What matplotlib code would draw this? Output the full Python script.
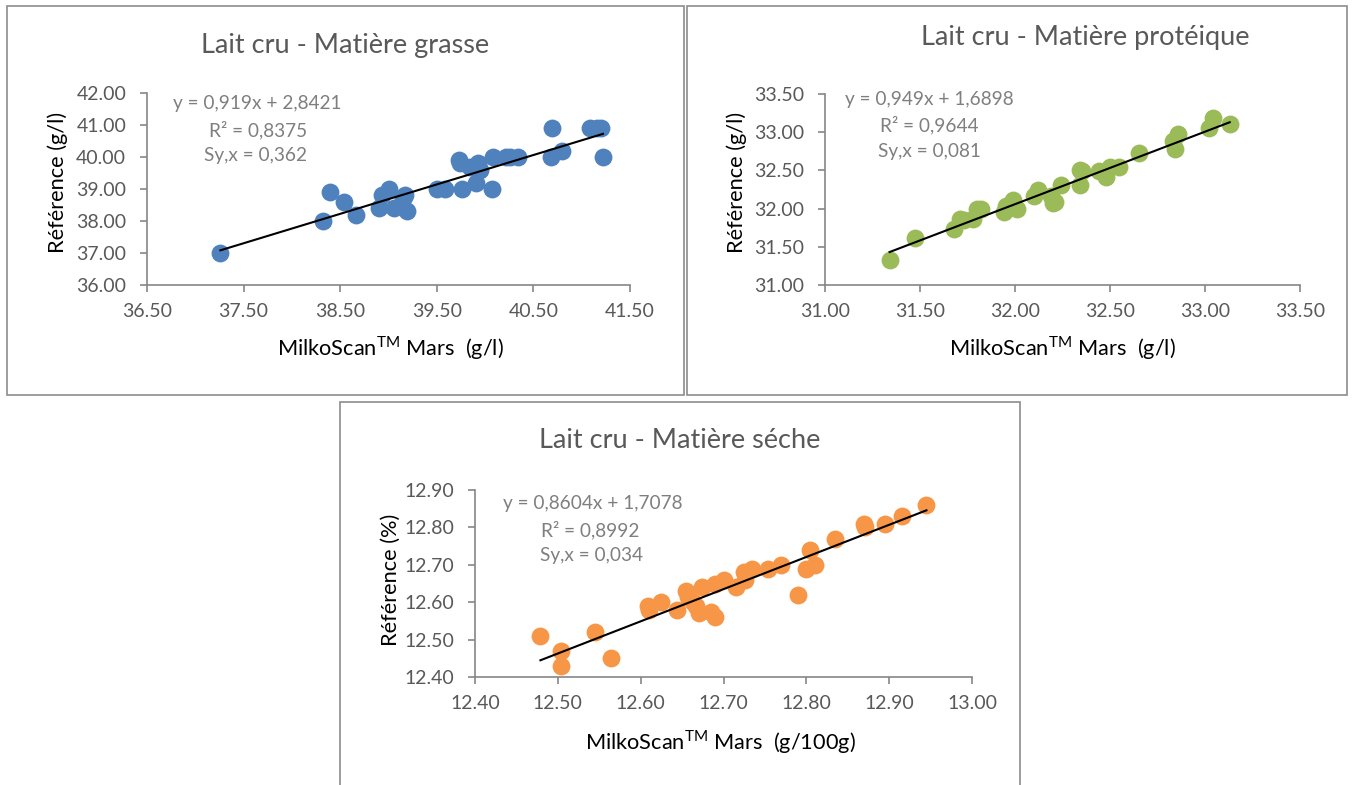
import numpy as np
import matplotlib
matplotlib.use("Agg")
import matplotlib.pyplot as plt
from matplotlib.patches import Rectangle

plt.rcParams['font.family'] = ['Lato', 'DejaVu Sans']
plt.rcParams['mathtext.fontset'] = 'custom'
plt.rcParams['mathtext.rm'] = 'Lato'

W, H = 1352, 785

# --- données : matière grasse (g/l)
mg_x = [37.26, 38.32, 38.39, 38.54, 38.66, 38.90, 38.93, 39.01, 39.06, 39.15,
        39.17, 39.19, 39.50, 39.58, 39.76, 39.73, 39.74, 39.84, 39.93, 39.95,
        39.91, 40.07, 40.08, 40.22, 40.26, 40.34, 40.68, 40.69, 40.80, 41.09,
        41.16, 41.20, 41.22]
mg_y = [37.0, 38.0, 38.9, 38.6, 38.2, 38.4, 38.8, 39.0, 38.4, 38.7,
        38.8, 38.3, 39.0, 39.0, 39.0, 39.9, 39.8, 39.7, 39.8, 39.6,
        39.2, 39.0, 40.0, 40.0, 40.0, 40.0, 40.0, 40.9, 40.2, 40.9,
        40.9, 40.9, 40.0]
mg_coef = (0.919, 2.8421)
mg_txt = ["y = 0,919x + 2,8421", "R² = 0,8375", "Sy,x = 0,362"]

# --- données : matière protéique (g/l)
mp_x = [31.34, 31.475, 31.68, 31.71, 31.73, 31.78, 31.80, 31.82, 31.94, 31.95,
        31.99, 32.01, 32.10, 32.12, 32.19, 32.20, 32.21, 32.24, 32.34, 32.34,
        32.35, 32.44, 32.48, 32.50, 32.55, 32.65, 32.83, 32.84, 32.86, 33.02,
        33.04, 33.13]
mp_y = [31.33, 31.61, 31.73, 31.87, 31.85, 31.87, 31.99, 31.99, 31.96, 32.04,
        32.11, 32.00, 32.16, 32.25, 32.16, 32.07, 32.08, 32.31, 32.51, 32.31,
        32.49, 32.49, 32.42, 32.55, 32.55, 32.73, 32.88, 32.78, 32.98, 33.05,
        33.18, 33.11]
mp_coef = (0.949, 1.6898)
mp_txt = ["y = 0,949x + 1,6898", "R² = 0,9644", "Sy,x = 0,081"]

# --- données : matière sèche (%)
ms_x = [12.479, 12.504, 12.504, 12.545, 12.564, 12.609, 12.610, 12.625, 12.644, 12.655,
        12.657, 12.663, 12.667, 12.670, 12.674, 12.685, 12.690, 12.690, 12.700, 12.715,
        12.725, 12.726, 12.735, 12.754, 12.770, 12.790, 12.800, 12.805, 12.810, 12.835,
        12.870, 12.871, 12.895, 12.915, 12.945]
ms_y = [12.51, 12.47, 12.43, 12.52, 12.45, 12.59, 12.58, 12.60, 12.58, 12.63,
        12.615, 12.60, 12.59, 12.57, 12.64, 12.575, 12.56, 12.65, 12.66, 12.64,
        12.68, 12.66, 12.69, 12.69, 12.70, 12.62, 12.69, 12.74, 12.70, 12.77,
        12.81, 12.80, 12.81, 12.83, 12.86]
ms_coef = (0.8604, 1.7078)
ms_txt = ["y = 0,8604x + 1,7078", "R² = 0,8992", "Sy,x = 0,034"]

GRAY = '#595959'
EQ = '#7f7f7f'
AX = '#868686'


def fx(px):
    return px / W


def fy(py):
    return 1 - py / H


def panel(fig, box, rect, xs, ys, color, coef, xlim, ylim, step_x, step_y,
          title, title_pos, xlab, xlab_pos, ylab, ylab_pos, eq, eq_pos):
    # cadre du graphique
    x0, y0, x1, y1 = box
    fig.patches.append(Rectangle((fx(x0), fy(y1)), fx(x1 - x0), (y1 - y0) / H,
                                 transform=fig.transFigure, fill=False,
                                 edgecolor='#8c8c8c', linewidth=1.2))
    l, t, r, b = rect
    ax = fig.add_axes([fx(l), fy(b), fx(r - l), (b - t) / H])
    ax.scatter(xs, ys, s=165, color=color, zorder=3, linewidths=0)
    tx = np.array([min(xs), max(xs)])
    ax.plot(tx, coef[0] * tx + coef[1], color='black', lw=1.5, zorder=4)
    ax.set_xlim(*xlim)
    ax.set_ylim(*ylim)
    ax.set_xticks(np.arange(xlim[0], xlim[1] + 1e-9, step_x))
    ax.set_yticks(np.arange(ylim[0], ylim[1] + 1e-9, step_y))
    ax.xaxis.set_major_formatter(matplotlib.ticker.FormatStrFormatter('%.2f'))
    ax.yaxis.set_major_formatter(matplotlib.ticker.FormatStrFormatter('%.2f'))
    for s in ['top', 'right']:
        ax.spines[s].set_visible(False)
    for s in ['left', 'bottom']:
        ax.spines[s].set_color(AX)
        ax.spines[s].set_linewidth(1.2)
    ax.tick_params(colors=AX, labelcolor=GRAY, labelsize=14, length=5, width=1.2)
    ax.tick_params(axis='x', pad=8)
    ax.tick_params(axis='y', pad=10)
    ax.set_facecolor('none')
    for sp in ax.spines.values():
        sp.set_clip_on(False)

    fig.text(fx(title_pos[0]), fy(title_pos[1]), title, ha='center', va='center',
             fontsize=19.5, color=GRAY)
    fig.text(fx(xlab_pos[0]), fy(xlab_pos[1]), xlab, ha='center', va='center',
             fontsize=15.7, color='black')
    fig.text(fx(ylab_pos[0]), fy(ylab_pos[1]), ylab, ha='center', va='center',
             fontsize=15.7, color='black', rotation=90)
    for s, (px, py) in zip(eq, eq_pos):
        fig.text(fx(px), fy(py), s, ha='center', va='center', fontsize=13.7, color=EQ)
    return ax


fig = plt.figure(figsize=(W / 100, H / 100), dpi=100)
fig.patch.set_facecolor('white')

xl = r"MilkoScan$^{\mathrm{TM}}$ Mars  (g/l)"

panel(fig, (7, 6, 684, 395), (147, 93, 630, 285), mg_x, mg_y, '#4f81bd', mg_coef,
      (36.5, 41.5), (36.0, 42.0), 1.0, 1.0,
      "Lait cru - Matière grasse", (345, 45), xl, (390, 348),
      "Référence (g/l)", (58, 182), mg_txt, [(257, 103), (258, 130), (256, 155)])

panel(fig, (687, 6, 1347, 395), (825, 94, 1300, 285), mp_x, mp_y, '#9bbb59', mp_coef,
      (31.0, 33.5), (31.0, 33.5), 0.5, 0.5,
      "Lait cru - Matière protéique", (1085, 37), xl, (1062, 348),
      "Référence (g/l)", (737, 182), mp_txt, [(929, 99), (929, 125), (929, 151)])

panel(fig, (340, 402, 1020, 800), (475, 490, 972, 677), ms_x, ms_y, '#f79646', ms_coef,
      (12.4, 13.0), (12.4, 12.9), 0.1, 0.1,
      "Lait cru - Matière séche", (680, 440), r"MilkoScan$^{\mathrm{TM}}$ Mars  (g/100g)",
      (720, 742), "Référence (%)", (391, 580), ms_txt, [(593, 503), (590, 530), (592, 555)])

fig.savefig("out.png", dpi=100)
